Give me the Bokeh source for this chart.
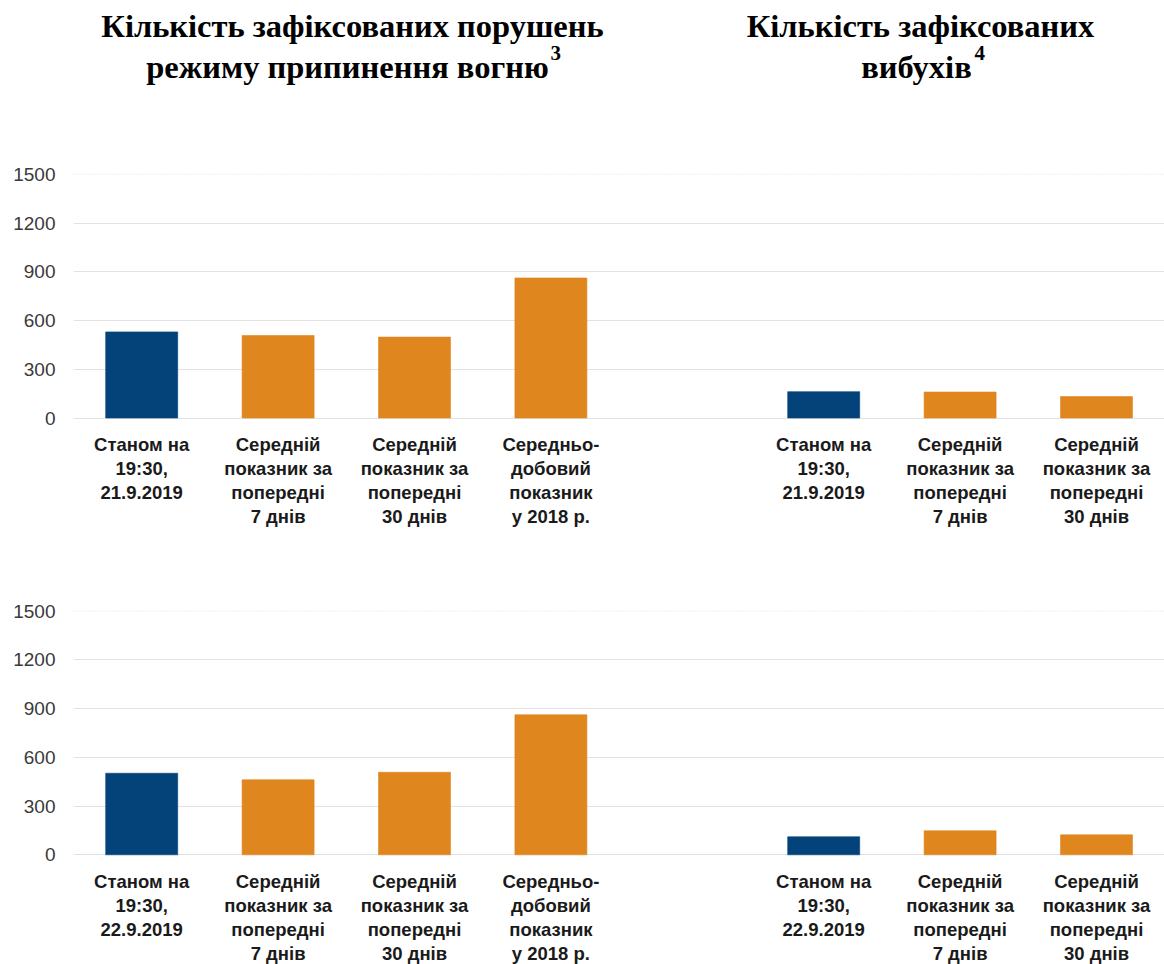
from bokeh.plotting import figure
from bokeh.models import Range1d, FixedTicker, Span
from bokeh.layouts import column
from bokeh.embed import file_html
from bokeh.resources import INLINE
from bokeh.core.properties import value

# ---------------- data ----------------
ceasefire_labels_21 = ["Станом на\n19:30,\n21.9.2019",
                       "Середній\nпоказник за\nпопередні\n7 днів",
                       "Середній\nпоказник за\nпопередні\n30 днів",
                       "Середньо-\nдобовий\nпоказник\nу 2018 р."]
explosion_labels_21 = ["Станом на\n19:30,\n21.9.2019",
                       "Середній\nпоказник за\nпопередні\n7 днів",
                       "Середній\nпоказник за\nпопередні\n30 днів"]
ceasefire_labels_22 = ["Станом на\n19:30,\n22.9.2019",
                       "Середній\nпоказник за\nпопередні\n7 днів",
                       "Середній\nпоказник за\nпопередні\n30 днів",
                       "Середньо-\nдобовий\nпоказник\nу 2018 р."]
explosion_labels_22 = ["Станом на\n19:30,\n22.9.2019",
                       "Середній\nпоказник за\nпопередні\n7 днів",
                       "Середній\nпоказник за\nпопередні\n30 днів"]

ceasefire_21 = [530, 508, 498, 862]
explosions_21 = [162, 160, 132]
ceasefire_22 = [502, 462, 508, 862]
explosions_22 = [111, 148, 123]

y_ticks = [0, 300, 600, 900, 1200, 1500]

title_left_1 = "Кількість зафіксованих порушень"
title_left_2 = "режиму припинення вогню"
title_left_sup = "3"
title_right_1 = "Кількість зафіксованих"
title_right_2 = "вибухів"
title_right_sup = "4"

BLUE = "#03437a"
ORANGE = "#e0861f"

# ---------------- geometry ----------------
W = 1164
LEFT = 73
SLOT_PX = 136.4
PPU = 243.7 / 1500.0          # pixels per unit
FRAME_W = W - LEFT
X_START = -0.5
X_END = X_START + FRAME_W / SLOT_PX


def chart(fig_top, fig_h, zero_page, border_top, c_vals, e_vals, c_labels, e_labels):
    y_end = (zero_page - (fig_top + border_top)) / PPU
    y_start = (zero_page - (fig_top + fig_h)) / PPU
    p = figure(width=W, height=fig_h, output_backend="svg", toolbar_location=None,
               x_range=Range1d(X_START, X_END), y_range=Range1d(y_start, y_end),
               min_border_left=LEFT, min_border_right=0, min_border_top=border_top,
               min_border_bottom=0, x_axis_type=None)
    p.outline_line_color = None
    p.background_fill_color = "white"
    p.xgrid.visible = False
    p.ygrid.ticker = FixedTicker(ticks=y_ticks[:-1])
    p.ygrid.grid_line_color = "#e2e2e2"
    p.ygrid.grid_line_width = 1
    p.add_layout(Span(location=y_ticks[-1], dimension="width", line_color="#e2e2e2",
                      line_dash="1 2", line_width=1))

    ax = p.yaxis[0]
    ax.ticker = FixedTicker(ticks=y_ticks)
    ax.axis_line_color = None
    ax.major_tick_line_color = None
    ax.minor_tick_line_color = None
    ax.major_tick_out = 0
    ax.major_tick_in = 0
    ax.minor_tick_out = 0
    ax.major_label_standoff = 18
    ax.major_label_text_font = "Liberation Sans"
    ax.major_label_text_font_size = "19px"
    ax.major_label_text_color = "#3a3a3a"

    xs_c = list(range(len(c_vals)))
    xs_e = [len(c_vals) + 1 + i for i in range(len(e_vals))]
    xs = xs_c + xs_e
    tops = list(c_vals) + list(e_vals)
    colors = [BLUE] + [ORANGE] * (len(c_vals) - 1) + [BLUE] + [ORANGE] * (len(e_vals) - 1)
    p.vbar(x=xs, top=tops, bottom=0, width=72 / SLOT_PX, fill_color=colors,
           line_color=colors, line_alpha=0.6)

    labels = list(c_labels) + list(e_labels)
    y_lab = -16 / PPU
    p.text(x=xs, y=[y_lab] * len(xs), text=labels, text_align="center",
           text_baseline="top", text_font=value("Liberation Sans"),
           text_font_style="bold", text_font_size="18.5px", text_line_height=1.15,
           text_color="#1a1a1a")
    return p


# ---------------- titles ----------------
TH = 120
t = figure(width=W, height=TH, output_backend="svg", toolbar_location=None,
           x_range=Range1d(LEFT, W), y_range=Range1d(TH, 0),
           x_axis_type=None, y_axis_type=None, min_border=0,
           min_border_left=LEFT, min_border_right=0, min_border_top=0, min_border_bottom=0)
t.outline_line_color = None
t.grid.visible = False
tf = value("Liberation Serif")
t.text(x=[352, 920], y=[25, 25], text=[title_left_1, title_right_1],
       text_align="center", text_baseline="alphabetic", text_font=tf,
       text_font_style="bold", text_font_size="32.5px", text_color="black")
t.text(x=[347, 916], y=[66, 66], text=[title_left_2, title_right_2],
       text_align="center", text_baseline="alphabetic", text_font=tf,
       text_font_style="bold", text_font_size="32.5px", text_color="black")
t.text(x=[550, 974], y=[52, 52], text=[title_left_sup, title_right_sup],
       text_align="left", text_baseline="alphabetic", text_font=tf,
       text_font_style="bold", text_font_size="21px", text_color="black")

top = chart(TH, 420, 417.5, 46, ceasefire_21, explosions_21,
            ceasefire_labels_21, explosion_labels_21)
bottom = chart(TH + 420, 964 - TH - 420, 854.3, 64, ceasefire_22, explosions_22,
               ceasefire_labels_22, explosion_labels_22)

layout = column(t, top, bottom, spacing=0)
open("out.html", "w").write(file_html(layout, INLINE))
